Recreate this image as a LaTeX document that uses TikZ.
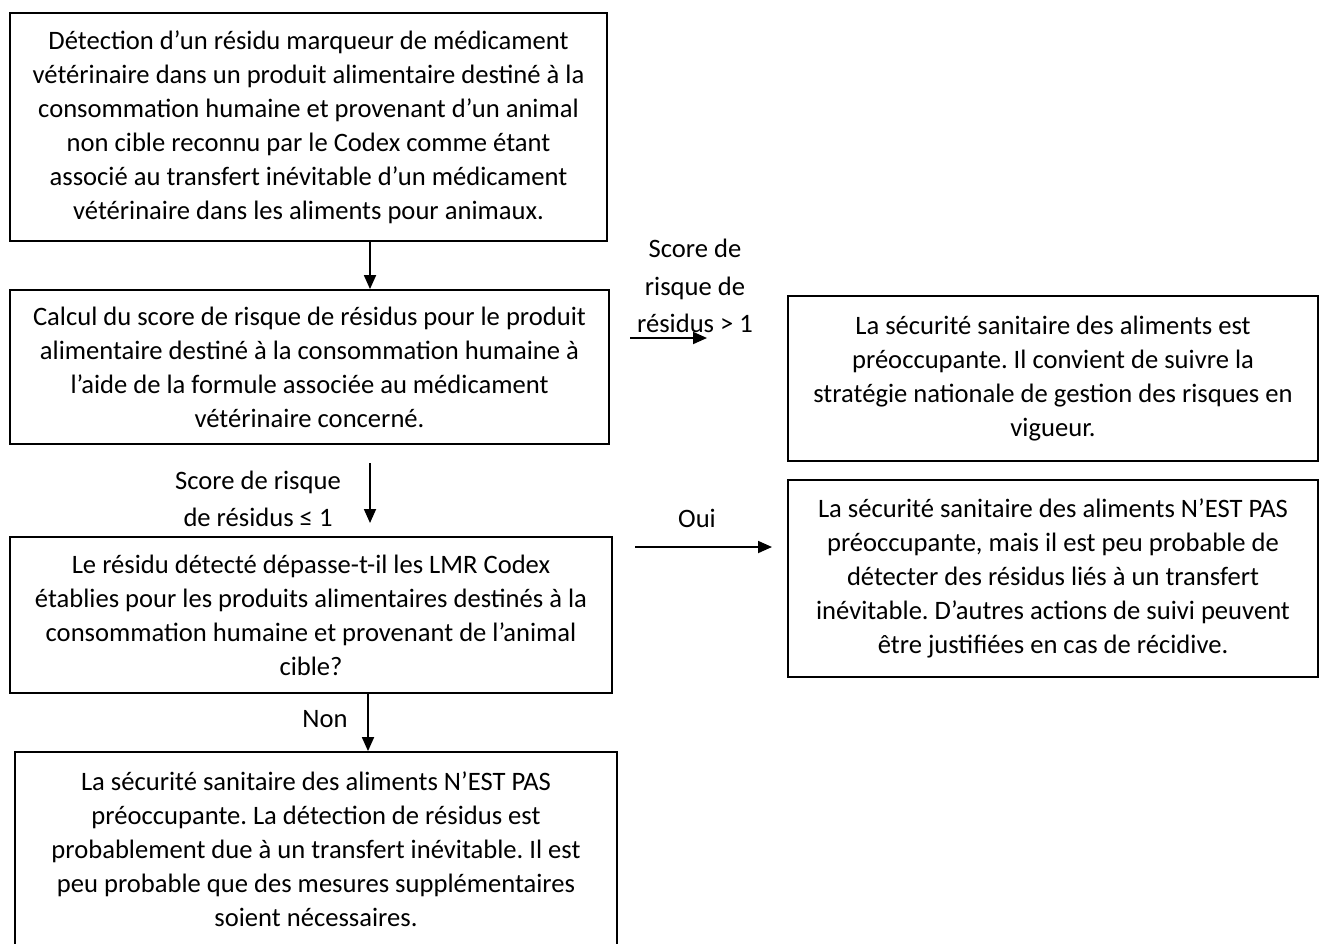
\documentclass[tikz,border=0pt]{standalone}
\usepackage{fontspec}
\setmainfont{Carlito}
\frenchspacing
\usetikzlibrary{arrows.meta}
\begin{document}
\begin{tikzpicture}[x=1pt,y=-1pt,
  box/.style={draw,line width=1.8pt,inner sep=0pt,align=center,font=\fontsize{26.6}{34}\selectfont},
  lbl/.style={inner sep=0pt,align=center,font=\fontsize{26.6}{37.5}\selectfont},
  arr/.style={line width=1.8pt,-{Triangle[length=14pt,width=12pt]}}]
\useasboundingbox (0,0) rectangle (1320,943);
\node[box,minimum width=597pt,minimum height=228pt] (b1) at (308.5,127) {Détection d’un résidu marqueur de médicament\\vétérinaire dans un produit alimentaire destiné à la\\consommation humaine et provenant d’un animal\\non cible reconnu par le Codex comme étant\\associé au transfert inévitable d’un médicament\\vétérinaire dans les aliments pour animaux.};
\node[box,minimum width=599pt,minimum height=154pt] (b2) at (309.5,367) {Calcul du score de risque de résidus pour le produit\\alimentaire destiné à la consommation humaine à\\l’aide de la formule associée au médicament\\vétérinaire concerné.};
\node[box,minimum width=530pt,minimum height=165pt] (b3) at (1053,378.5) {La sécurité sanitaire des aliments est\\préoccupante. Il convient de suivre la\\stratégie nationale de gestion des risques en\\vigueur.};
\node[box,minimum width=602pt,minimum height=156pt] (b4) at (311,615) {Le résidu détecté dépasse-t-il les LMR Codex\\établies pour les produits alimentaires destinés à la\\consommation humaine et provenant de l’animal\\cible?};
\node[box,minimum width=530pt,minimum height=197pt] (b5) at (1053,578.5) {La sécurité sanitaire des aliments N’EST PAS\\préoccupante, mais il est peu probable de\\détecter des résidus liés à un transfert\\inévitable. D’autres actions de suivi peuvent\\être justifiées en cas de récidive.};
\node[box,minimum width=602pt,minimum height=194pt] (b6) at (316,849) {La sécurité sanitaire des aliments N’EST PAS\\préoccupante. La détection de résidus est\\probablement due à un transfert inévitable. Il est\\peu probable que des mesures supplémentaires\\soient nécessaires.};
% labels
\node[lbl] (l1) at (695,286) {Score de\\risque de\\résidus > 1};
\node[lbl] (l2) at (258,499) {Score de risque\\de résidus ≤ 1};
\node[lbl] (l3) at (697,518) {Oui};
\node[lbl] (l4) at (325,719) {Non};
% connectors
\coordinate (a2s) at (370,463);
\coordinate (a2e) at (370,523);
\coordinate (a3s) at (630,338);
\coordinate (a3e) at (707,338);
\coordinate (a4s) at (635,547);
\coordinate (a4e) at (772,547);
\draw[arr] (b1.south -| 370,0) -- (b2.north -| 370,0);
\draw[arr] (a2s) -- (a2e);
\draw[arr] (a3s) -- (a3e);
\draw[arr] (a4s) -- (a4e);
\draw[arr] (b4.south -| 368,0) -- (b6.north -| 368,0);
\end{tikzpicture}
\end{document}
